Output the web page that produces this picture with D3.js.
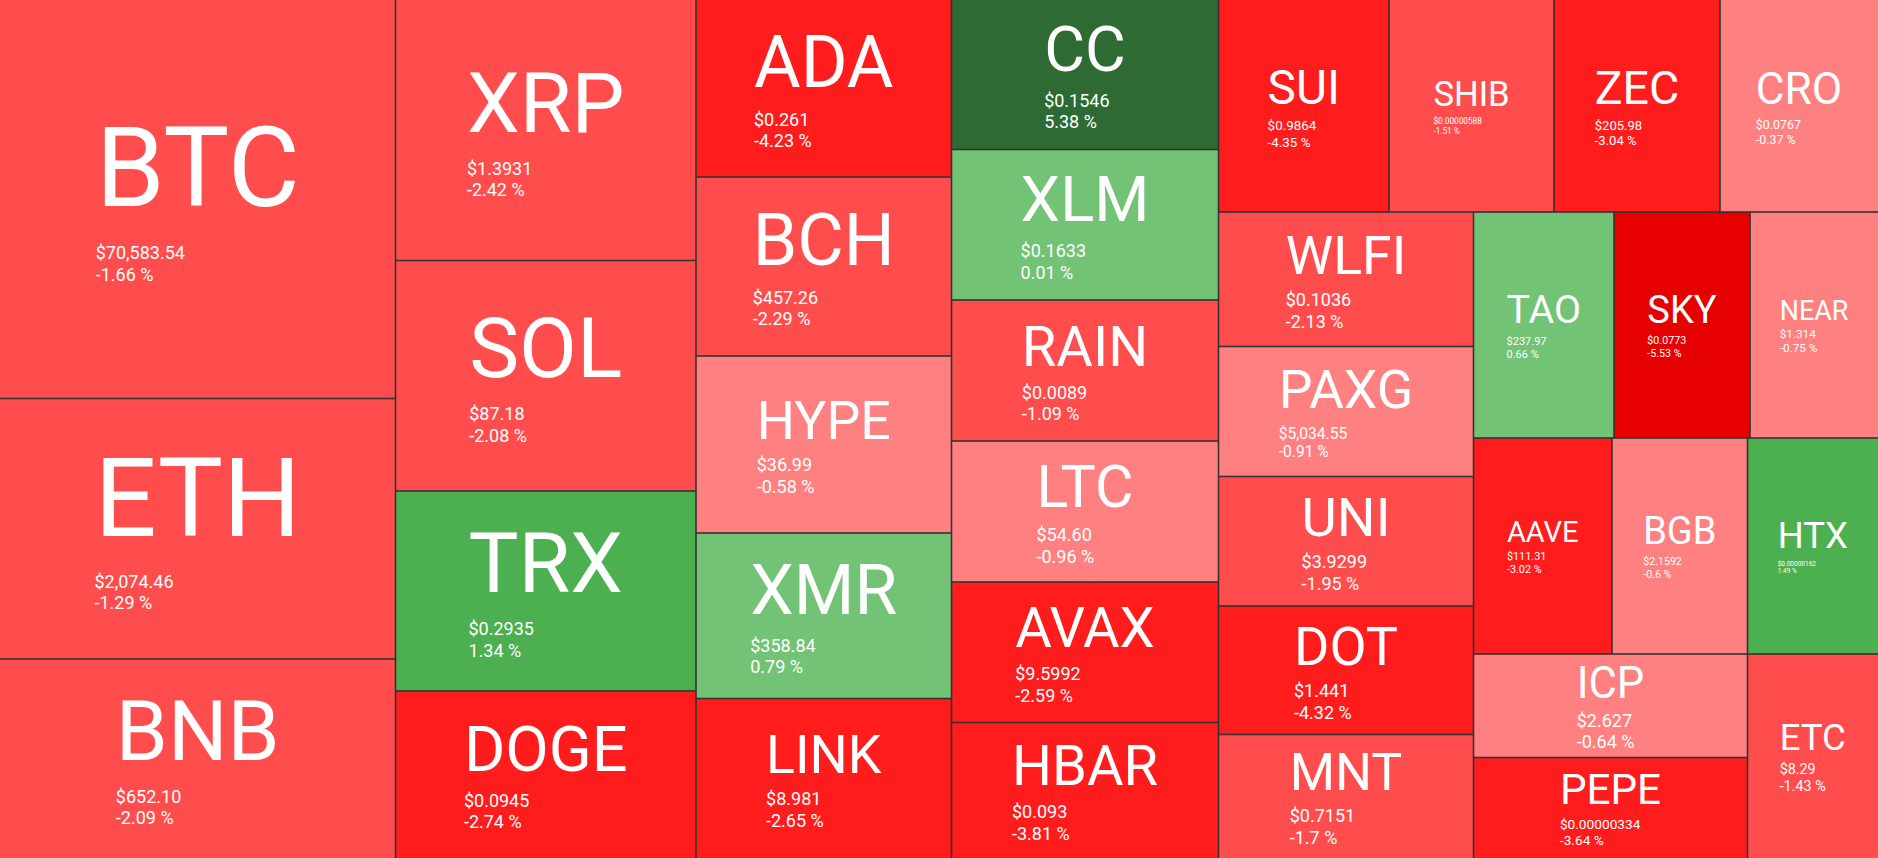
<!DOCTYPE html>
<html>
<head>
<meta charset="utf-8">
<script src="https://cdn.jsdelivr.net/npm/d3@7"></script>
<style>
  html, body { margin: 0; padding: 0; background: #333333; overflow: hidden; }
  svg { display: block; }
  text { font-family: Roboto, "Noto Sans", sans-serif; fill: #ffffff; }
</style>
</head>
<body>
<svg id="chart" width="1878" height="858"></svg>
<script>
// ---- data (layout order) ----
const symbols = ["BTC","ETH","BNB","XRP","SOL","TRX","DOGE","ADA","BCH","HYPE","XMR","LINK",
  "CC","XLM","RAIN","LTC","AVAX","HBAR","SUI","SHIB","ZEC","CRO","WLFI","PAXG","UNI","DOT","MNT",
  "TAO","SKY","NEAR","AAVE","BGB","HTX","ICP","PEPE","ETC"];

// relative size weights read from the tile areas
const weights = [157607,103028,78705,78280,69265,60100,50184,45224,45735,45224,42285,40752,
  39917,40184,37647,37647,37514,36179,36146,34980,35192,33496,34298,33150,33023,32768,31493,
  31753,30736,28928,29916,29268,28188,28359,27537,26622];

const prices = ["$70,583.54","$2,074.46","$652.10","$1.3931","$87.18","$0.2935","$0.0945","$0.261",
  "$457.26","$36.99","$358.84","$8.981","$0.1546","$0.1633","$0.0089","$54.60","$9.5992","$0.093",
  "$0.9864","$0.00000588","$205.98","$0.0767","$0.1036","$5,034.55","$3.9299","$1.441","$0.7151",
  "$237.97","$0.0773","$1.314","$111.31","$2.1592","$0.00000162","$2.627","$0.00000334","$8.29"];

const changes = [-1.66,-1.29,-2.09,-2.42,-2.08,1.34,-2.74,-4.23,-2.29,-0.58,0.79,-2.65,
  5.38,0.01,-1.09,-0.96,-2.59,-3.81,-4.35,-1.51,-3.04,-0.37,-2.13,-0.91,-1.95,-4.32,-1.7,
  0.66,-5.53,-0.75,-3.02,-0.6,1.49,-0.64,-3.64,-1.43];

// colour bands by % change
const bandLimits = [-5, -2.5, -1, 0, 1, 2.5];
const bandColors = ["#E60000","#FF1C1C","#FF4D4D","#FF8080","#72C376","#4CAF50","#2E6B34"];

// ---- layout ----
const W = 1878, H = 858, gap = 0.8;
const color = d3.scaleThreshold().domain(bandLimits).range(bandColors);

const tree = {
  name: "root",
  children: symbols.map((s, i) => ({ symbol: s, weight: weights[i], price: prices[i], change: changes[i] }))
};
const root = d3.hierarchy(tree).sum(d => d.weight || 0);
d3.treemap()
  .tile(d3.treemapSquarify.ratio(1.6045))
  .size([W, H])
  .round(false)(root);

const svg = d3.select("#chart");
const cells = svg.selectAll("g.cell").data(root.leaves()).join("g").attr("class", "cell");

cells.append("rect")
  .attr("x", d => d.x0 + (d.x0 > 0.5 ? gap : 0))
  .attr("y", d => d.y0 + (d.y0 > 0.5 ? gap : 0))
  .attr("width", d => (d.x1 - (d.x1 < W - 0.5 ? gap : 0)) - (d.x0 + (d.x0 > 0.5 ? gap : 0)))
  .attr("height", d => (d.y1 - (d.y1 < H - 0.5 ? gap : 0)) - (d.y0 + (d.y0 > 0.5 ? gap : 0)))
  .attr("fill", d => color(d.data.change));

cells.each(function(d) {
  const g = d3.select(this);
  const w = d.x1 - d.x0, h = d.y1 - d.y0;
  const cx = (d.x0 + d.x1) / 2, cy = (d.y0 + d.y1) / 2;
  const fsS = Math.min(0.84 * w / d.data.symbol.length, 0.42 * h);
  const fsP = Math.min(18, 0.55 * w / d.data.price.length);

  const sym = g.append("text")
    .attr("font-size", fsS)
    .text(d.data.symbol);
  const adv = sym.node().getComputedTextLength();
  const x = cx - adv / 2;

  const blockH = 0.711 * fsS + 0.36 * fsS + 0.711 * fsP + 1.2 * fsP;
  const capTop = cy - blockH / 2 + 0.045 * fsS;
  const yS = capTop + 0.711 * fsS;
  const yP = yS + 0.36 * fsS + 0.711 * fsP;
  const yC = yP + 1.2 * fsP;

  sym.attr("x", x).attr("y", yS);
  g.append("text").attr("x", x).attr("y", yP).attr("font-size", fsP).text(d.data.price);
  g.append("text").attr("x", x).attr("y", yC).attr("font-size", fsP).text(d.data.change + " %");
});
</script>
</body>
</html>
